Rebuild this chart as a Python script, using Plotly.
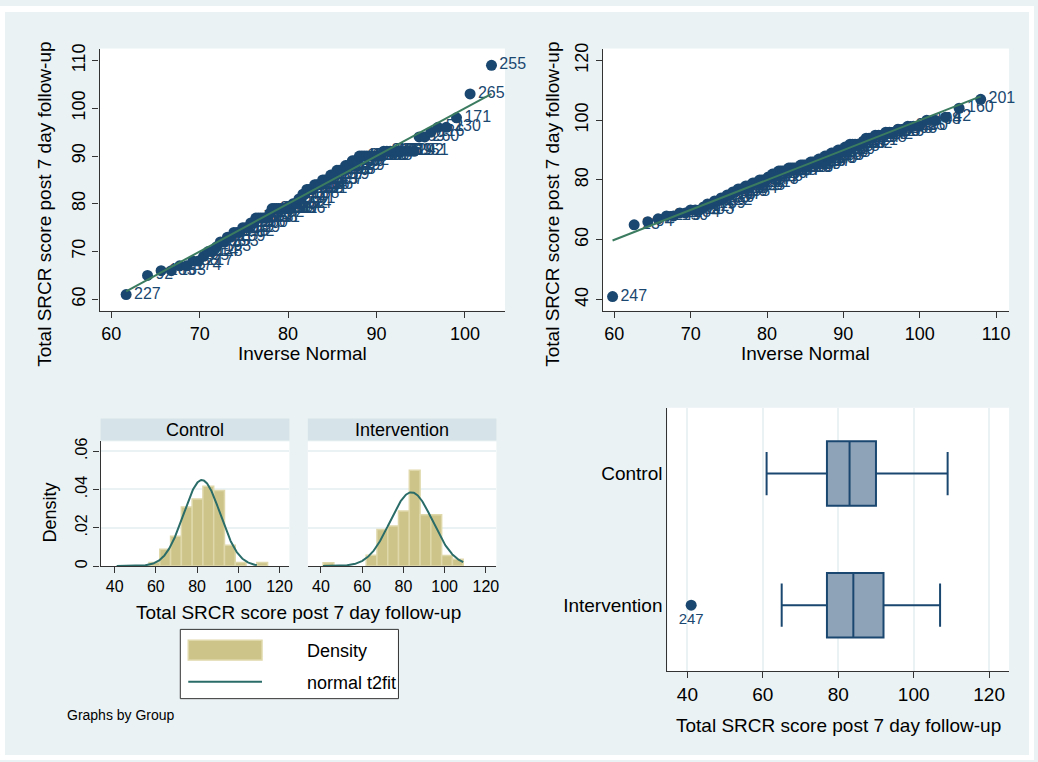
import plotly.graph_objects as go
from statistics import NormalDist, mean, stdev

# ---------------- data ----------------
# Control group: score values and their counts (sorted)
CTRL_VALUES = [61, 65, 66, 67, 68, 69, 70, 71, 72, 73, 74, 75, 76, 77, 78, 79, 80, 81, 82,
               83, 84, 85, 86, 87, 88, 89, 90, 91, 94, 95, 96, 98, 103, 109]
CTRL_COUNTS = [1, 1, 2, 2, 2, 1, 2, 1, 2, 2, 3, 3, 2, 6, 1, 10, 3, 2, 2,
               4, 4, 4, 3, 4, 3, 3, 9, 9, 2, 1, 2, 1, 1, 1]
CTRL_IDS = [227, 92, 185, 163, 57, 174, 88, 217, 35, 128, 14, 193, 66, 253,
            31, 109, 146, 7, 212, 98, 139, 52, 236, 180, 76, 119, 5, 158, 241, 63,
            102, 27, 170, 210, 45, 133, 262, 81, 117, 9, 196, 152, 38, 224, 70, 141, 18, 188,
            252, 106, 60, 131, 206, 29, 166, 84, 245, 113, 3, 177, 137, 55, 219, 96, 125, 268,
            40, 149, 72, 199, 11, 232, 86, 155, 21, 121, 258, 64, 182, 100, 143, 33, 214, 77,
            161, 47, 239, 124, 6, 192, 151, 69, 260, 116, 51, 230, 171, 265, 255]

# Intervention group
INTV_VALUES = [41, 65, 66, 67, 68, 69, 70, 71, 72, 73, 74, 75, 76, 77, 78, 79, 80, 81, 82,
               83, 84, 85, 86, 87, 88, 89, 90, 91, 92, 93, 94, 95, 96, 97, 98, 100, 101, 104, 107]
INTV_COUNTS = [1, 1, 1, 1, 2, 2, 3, 1, 2, 2, 2, 2, 2, 3, 3, 3, 4, 2, 3,
               5, 6, 5, 4, 3, 3, 3, 3, 2, 5, 1, 3, 3, 3, 2, 3, 2, 1, 1, 1]
INTV_IDS = [247, 23, 94, 2, 249, 150, 17, 234, 90, 59, 203, 127, 44, 189,
            8, 222, 110, 73, 167, 36, 250, 135, 95, 13, 184, 61, 228, 105, 157, 26,
            211, 79, 144, 243, 4, 175, 58, 120, 264, 97, 154, 30, 195, 83, 237, 112, 19, 168,
            67, 246, 136, 10, 204, 89, 159, 43, 225, 118, 1, 187, 75, 266, 140, 54, 208, 103,
            16, 179, 238, 87, 130, 62, 215, 25, 148, 257, 99, 172, 39, 221, 114, 68, 198, 15,
            142, 80, 233, 126, 50, 178, 263, 20, 190, 85, 104, 48, 42, 160, 201]

# Histogram (density per bin, bins start at 41 with width 68/13)
HIST_START = 41.0
HIST_WIDTH = 68.0 / 13.0
CTRL_DENSITY = [0, 0, 0, 0.0019, 0.0088, 0.0155, 0.0309, 0.0350, 0.0417, 0.0395,
                0.0108, 0.0019, 0, 0.0019]
INTV_DENSITY = [0.0017, 0, 0, 0, 0.0057, 0.0191, 0.0209, 0.0288, 0.0500, 0.0268,
                0.0268, 0.0055, 0.0036, 0]

# Box plot statistics
BOX_GROUPS = ["Control", "Intervention"]
BOX_Q1 = [77, 77]
BOX_MEDIAN = [83, 84]
BOX_Q3 = [90, 92]
BOX_LOW = [61, 65]
BOX_HIGH = [109, 107]
OUTLIER_X = [41]
OUTLIER_LABEL = ["247"]

# ---------------- styling ----------------
W, H = 1038, 762
FONT = "Liberation Sans, Arial, sans-serif"
NAVY = "#1A476F"
LINE_GREEN = "#3B7C60"
TEAL = "#2A6C68"
KHAKI = "#CDC48A"
KHAKI_EDGE = "#DFD8AA"
BOXFILL = "#8FA3B8"
BG = "#EAF2F3"
STRIP = "#D6E3E9"
AX = "#333333"


def px(x):
    return x / W


def py(y):
    return 1 - y / H


def expand(values, counts):
    out = []
    for v, c in zip(values, counts):
        out += [v] * c
    return out


def qnorm_x(vals):
    n = len(vals)
    m, s = mean(vals), stdev(vals)
    nd = NormalDist()
    return [m + s * nd.inv_cdf(i / (n + 1)) for i in range(1, n + 1)]


ctrl = expand(CTRL_VALUES, CTRL_COUNTS)
intv = expand(INTV_VALUES, INTV_COUNTS)

fig = go.Figure()

# ---------- qnorm panels ----------
for vals, ids, xa, ya in [(ctrl, CTRL_IDS, "x", "y"), (intv, INTV_IDS, "x2", "y2")]:
    qx = qnorm_x(vals)
    fig.add_trace(go.Scatter(
        x=qx, y=vals, mode="markers+text", text=[str(i) for i in ids[:len(vals)]],
        textposition="middle right", cliponaxis=False,
        textfont=dict(size=16, color=NAVY, family=FONT),
        marker=dict(size=11, color=NAVY), xaxis=xa, yaxis=ya, hoverinfo="skip"))
    fig.add_trace(go.Scatter(
        x=[qx[0], qx[-1]], y=[qx[0], qx[-1]], mode="lines",
        line=dict(color=LINE_GREEN, width=2), xaxis=xa, yaxis=ya, hoverinfo="skip"))

# ---------- histograms ----------
for vals, dens, xa, ya in [(ctrl, CTRL_DENSITY, "x3", "y3"), (intv, INTV_DENSITY, "x4", "y4")]:
    cx = [HIST_START + HIST_WIDTH * (i + 0.5) for i, d in enumerate(dens) if d > 0]
    dy = [d for d in dens if d > 0]
    fig.add_trace(go.Bar(x=cx, y=dy, width=HIST_WIDTH,
                         marker=dict(color=KHAKI, line=dict(color=KHAKI_EDGE, width=1.5)),
                         xaxis=xa, yaxis=ya, hoverinfo="skip"))
    m, s = mean(vals), stdev(vals)
    lo, hi = min(ctrl + intv), max(ctrl + intv)
    gx = [lo + (hi - lo) * k / 300 for k in range(301)]
    gy = [NormalDist(m, s).pdf(v) for v in gx]
    fig.add_trace(go.Scatter(x=gx, y=gy, mode="lines", line=dict(color=TEAL, width=2),
                             xaxis=xa, yaxis=ya, hoverinfo="skip"))

# ---------- box plot ----------
fig.add_trace(go.Box(
    y=[1, 0], q1=BOX_Q1, median=BOX_MEDIAN, q3=BOX_Q3,
    lowerfence=BOX_LOW, upperfence=BOX_HIGH, orientation="h",
    width=0.49, whiskerwidth=0.67, fillcolor=BOXFILL,
    line=dict(color=NAVY, width=2), boxpoints=False,
    xaxis="x5", yaxis="y5", hoverinfo="skip"))
fig.add_trace(go.Scatter(
    x=OUTLIER_X, y=[0], mode="markers+text", text=OUTLIER_LABEL,
    textposition="bottom center", textfont=dict(size=15, color=NAVY, family=FONT),
    marker=dict(size=11, color=NAVY), xaxis="x5", yaxis="y5", hoverinfo="skip"))

axstyle = dict(showline=True, linecolor=AX, linewidth=1.3, ticks="outside", ticklen=6,
               tickwidth=1.3, tickcolor=AX, showgrid=False, zeroline=False, mirror=False,
               fixedrange=True)

fig.update_layout(
    width=W, height=H, margin=dict(l=0, r=0, t=0, b=0),
    paper_bgcolor=BG, plot_bgcolor="white", showlegend=False,
    font=dict(family=FONT, color="black"),
    xaxis=dict(domain=[px(100), px(507)], range=[58.68, 104.54], tickvals=[60, 70, 80, 90, 100],
               anchor="y", tickfont=dict(size=18), **axstyle),
    yaxis=dict(domain=[py(308), py(43)], range=[57.6, 112.5], tickvals=[60, 70, 80, 90, 100, 110],
               tickangle=-90, anchor="x", tickfont=dict(size=18), **axstyle),
    xaxis2=dict(domain=[px(605), px(1013)], range=[58.48, 111.7], tickvals=[60, 70, 80, 90, 100, 110],
                anchor="y2", tickfont=dict(size=18), **axstyle),
    yaxis2=dict(domain=[py(308), py(43)], range=[36.26, 123.97], tickvals=[40, 60, 80, 100, 120],
                tickangle=-90, anchor="x2", tickfont=dict(size=18), **axstyle),
    xaxis3=dict(domain=[px(101), px(290.5)], range=[33.2, 124.8], tickvals=[40, 60, 80, 100, 120],
                anchor="y3", tickfont=dict(size=16), **axstyle),
    yaxis3=dict(domain=[py(566), py(440)], range=[0, 0.0651], tickvals=[0, 0.02, 0.04, 0.06],
                ticktext=["0", ".02", ".04", ".06"], tickangle=-90, anchor="x3",
                tickfont=dict(size=16),
                **{**axstyle, "showgrid": True}, gridcolor=BG, gridwidth=1.5),
    xaxis4=dict(domain=[px(309), px(498.3)], range=[33.6, 125.1], tickvals=[40, 60, 80, 100, 120],
                anchor="y4", tickfont=dict(size=16), **axstyle),
    yaxis4=dict(domain=[py(566), py(440)], range=[0, 0.0651], tickvals=[0.02, 0.04, 0.06],
                showticklabels=False, ticks="", showline=False, showgrid=True, gridcolor=BG,
                gridwidth=1.5, zeroline=False, anchor="x4", fixedrange=True),
    xaxis5=dict(domain=[px(670), px(1013)], range=[34.7, 125.3], tickvals=[40, 60, 80, 100, 120],
                anchor="y5", tickfont=dict(size=19),
                **{**axstyle, "showgrid": True}, gridcolor=BG, gridwidth=1.5),
    yaxis5=dict(domain=[py(672), py(406)], range=[-0.5, 1.5], tickvals=[1, 0], ticktext=BOX_GROUPS,
                anchor="x5", tickfont=dict(size=19), showline=True, linecolor=AX, linewidth=1.3,
                ticks="", showgrid=False, zeroline=False, fixedrange=True),
)

shapes = []
# white outer frame
for x0, y0, x1, y1 in [(0, 0, W, 6), (0, 757, W, H), (0, 0, 5, H), (1033, 0, W, H)]:
    shapes.append(dict(type="rect", xref="paper", yref="paper", x0=px(x0), x1=px(x1),
                       y0=py(y1), y1=py(y0), fillcolor="white", line=dict(width=0)))
# strips for by-graph
for x0, x1 in [(101, 290.5), (309, 498.3)]:
    shapes.append(dict(type="rect", xref="paper", yref="paper", x0=px(x0), x1=px(x1),
                       y0=py(439), y1=py(417), fillcolor=STRIP, line=dict(width=0)))
# legend
shapes.append(dict(type="rect", xref="paper", yref="paper", x0=px(181), x1=px(400),
                   y0=py(700), y1=py(630), fillcolor="white", line=dict(color=AX, width=1)))
shapes.append(dict(type="rect", xref="paper", yref="paper", x0=px(189), x1=px(263),
                   y0=py(661), y1=py(641), fillcolor=KHAKI, line=dict(color=KHAKI_EDGE, width=1.5)))
shapes.append(dict(type="line", xref="paper", yref="paper", x0=px(189), x1=px(263),
                   y0=py(683), y1=py(683), line=dict(color=TEAL, width=2)))
fig.update_layout(shapes=shapes)


def ann(text, x, y, size, angle=0, xanchor="center"):
    fig.add_annotation(text=text, x=px(x), y=py(y), xref="paper", yref="paper",
                       showarrow=False, textangle=angle, xanchor=xanchor, yanchor="middle",
                       font=dict(size=size, family=FONT, color="black"))


YT = "Total SRCR score post 7 day follow-up"
ann("Inverse Normal", 303.5, 351, 19)
ann("Inverse Normal", 809, 351, 19)
ann(YT, 45, 200, 19, -90)
ann(YT, 555, 200, 19, -90)
ann("Control", 196, 428, 18)
ann("Intervention", 403.5, 428, 18)
ann("Density", 50, 512, 18, -90)
ann(YT, 299.5, 613, 19)
ann(YT, 841.5, 727, 19)
ann("Density", 306, 652, 18, xanchor="left")
ann("normal t2fit", 306, 684, 18, xanchor="left")
ann("Graphs by Group", 65, 717, 14, xanchor="left")

fig.write_html("out.html")
